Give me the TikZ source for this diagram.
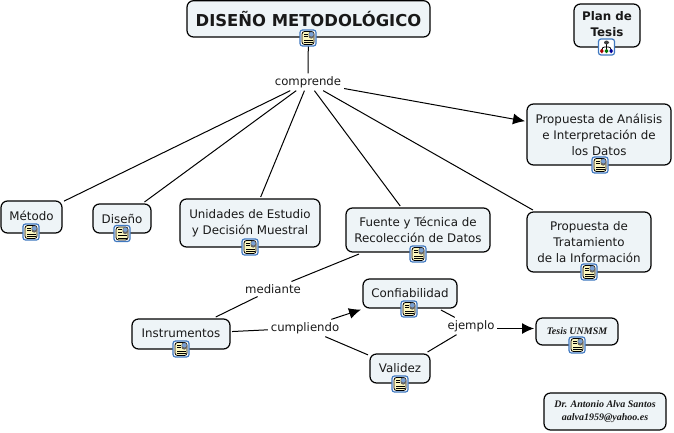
\documentclass[tikz,border=0pt]{standalone}
\usepackage{fontspec}
\setmainfont{DejaVu Sans}
\newfontfamily\serifbi{Liberation Serif}
\usetikzlibrary{arrows.meta}
\definecolor{boxfill}{HTML}{EEF4F7}
\definecolor{iconblue}{HTML}{3F78C0}
\definecolor{iconpage}{HTML}{FBF6BE}
\tikzset{
  x=1pt,y=-1pt,
  concept/.style={draw=black,line width=1.2pt,fill=boxfill,rounded corners=6.5pt,align=center,inner sep=0pt,outer sep=2pt,font=\fontsize{11.85}{16}\selectfont,text=black!90},
  linker/.style={inner xsep=1pt,inner ysep=1pt,outer sep=2pt,fill=none,font=\fontsize{11.7}{14}\selectfont,text=black!90},
  link/.style={draw=black,line width=1pt},
  arrowlink/.style={link,-{Latex[length=12pt,width=11pt]}},
  doc/.style={draw=iconblue,line width=1.2pt,fill=white,rounded corners=2.5pt,minimum width=16pt,minimum height=16pt,inner sep=0pt,
    path picture={
      \fill[iconpage] ([shift={(-6,6.5)}]path picture bounding box.center) rectangle ++(12,-13);
      \draw[black,line width=.8pt] ([shift={(-6,6.5)}]path picture bounding box.center) rectangle ++(12,-13);
      \fill[black!60] ([shift={(0.5,0.5)}]path picture bounding box.center) rectangle ++(5.5,-7);
      \fill[iconblue!70] ([shift={(1,-1.5)}]path picture bounding box.center) rectangle ++(4.5,-4.5);
      \draw[black,line width=.9pt] ([shift={(-4,-4)}]path picture bounding box.center) -- ++(3.5,0);
      \draw[black,line width=.9pt] ([shift={(-4,-1.5)}]path picture bounding box.center) -- ++(3.5,0);
      \draw[black,line width=.9pt] ([shift={(-4,2)}]path picture bounding box.center) -- ++(8.5,0);
      \draw[black,line width=.9pt] ([shift={(-4,4.5)}]path picture bounding box.center) -- ++(8.5,0);
    }},
  cmap/.style={draw=iconblue,line width=1.2pt,fill=white,rounded corners=2.5pt,minimum width=16pt,minimum height=16pt,inner sep=0pt,
    path picture={
      \draw[black,line width=.8pt] ([shift={(-4.5,3)}]path picture bounding box.center) -- ++(0,-3) -- ++(9,0) -- ++(0,3);
      \draw[black,line width=.8pt] ([shift={(0,-3)}]path picture bounding box.center) -- ++(0,6);
      \fill[black!75] ([shift={(-2.5,-6.5)}]path picture bounding box.center) rectangle ++(5,4);
      \fill[red!65!black] ([shift={(-6.5,2)}]path picture bounding box.center) rectangle ++(3.6,4);
      \fill[green!45!black] ([shift={(-1.8,2)}]path picture bounding box.center) rectangle ++(3.6,4);
      \fill[blue!60!black] ([shift={(2.9,2)}]path picture bounding box.center) rectangle ++(3.6,4);
    }}
}
\newcommand{\cbox}[7][]{% name, x0,y0,x1,y1, text
  \node[concept,minimum width=#5pt-#3pt,minimum height=#6pt-#4pt,#1] (#2) at ({(#3+#5)/2},{(#4+#6)/2}) {#7};}
\begin{document}
\begin{tikzpicture}
\useasboundingbox (0,0) rectangle (674,432);
% linking phrases
\node[linker] (comp) at (308,82) {comprende};
\node[linker] (med) at (273,289) {mediante};
\node[linker] (cump) at (305,328) {cumpliendo};
\node[linker] (ejem) at (471,326) {ejemplo};
% concepts
\cbox[font=\fontsize{16.4}{18}\selectfont\bfseries]{title}{187}{0.7}{430}{37}{DISEÑO METODOLÓGICO}
\cbox[font=\fontsize{11.85}{16}\selectfont\bfseries]{plan}{574}{4}{640}{47}{Plan de\\Tesis\\[-13pt]}
\cbox{metodo}{1}{201}{62}{233}{Método\\[-14pt]}
\cbox{diseno}{93}{204}{151}{233}{Diseño}
\cbox{unid}{180}{199}{320}{247}{Unidades de Estudio\\y Decisión Muestral\\[-14pt]}
\cbox{fuente}{346}{208}{490}{252}{Fuente y Técnica de\\Recolección de Datos}
\cbox{analisis}{527}{104}{671}{165}{Propuesta de Análisis\\e Interpretación de\\los Datos}
\cbox{trat}{527}{212}{651}{272}{Propuesta de\\Tratamiento\\de la Información}
\cbox{instr}{132}{319}{230}{349}{Instrumentos\\[-14pt]}
\cbox{conf}{363}{279}{457}{308}{Confiabilidad\\[-14pt]}
\cbox{valid}{370}{354}{430}{383}{Validez}
\cbox[font=\fontsize{10}{12}\selectfont\serifbi\bfseries\itshape]{tesis}{536}{318}{618}{345}{Tesis UNMSM}
\cbox[font=\fontsize{10}{12.5}\selectfont\serifbi\bfseries\itshape]{autor}{544}{393}{666}{430}{Dr. Antonio Alva Santos\\aalva1959@yahoo.es}
% connectors
\draw[link] (title) -- (comp);
\draw[link] (comp) -- (metodo);
\draw[link] (comp) -- (diseno);
\draw[link] (comp) -- (unid);
\draw[link] (comp) -- (fuente);
\draw[link] (comp) -- (trat);
\draw[arrowlink] (comp) -- (analisis);
\draw[link] (fuente) -- (med);
\draw[link] (med) -- (instr);
\draw[link] (instr) -- (cump);
\draw[arrowlink] (cump) -- (conf);
\draw[link] (cump) -- (valid);
\draw[link] (conf) -- (ejem);
\draw[link] (valid) -- (ejem);
\draw[arrowlink] ([yshift=-2.5pt]ejem.east) -- ([yshift=-2.5pt]ejem.east -| tesis.west);
% icons
\node[doc] (i1) at (308,38) {};
\node[cmap] (i2) at (606.5,47) {};
\node[doc] (i3) at (31,232) {};
\node[doc] (i4) at (122,233.5) {};
\node[doc] (i5) at (250,247) {};
\node[doc] (i6) at (418,254) {};
\node[doc] (i7) at (600,165) {};
\node[doc] (i8) at (589,272) {};
\node[doc] (i9) at (181,349) {};
\node[doc] (i10) at (409,309) {};
\node[doc] (i11) at (400,384) {};
\node[doc] (i12) at (577,345) {};
\end{tikzpicture}
\end{document}
